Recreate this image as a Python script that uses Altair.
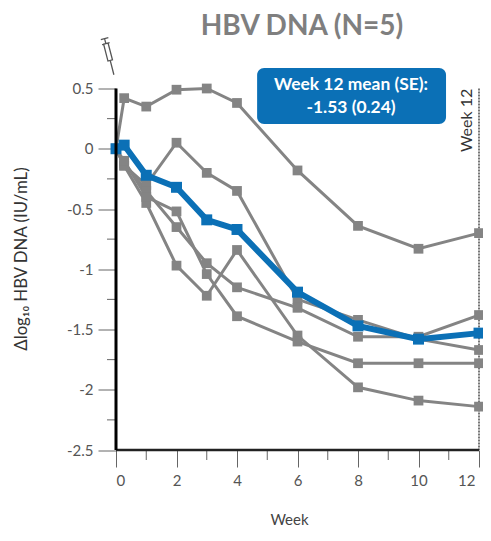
import altair as alt
import pandas as pd

weeks = [0, 0.27, 1, 2, 3, 4, 6, 8, 10, 12]
s1 = [0, 0.42, 0.35, 0.49, 0.50, 0.38, -0.18, -0.64, -0.83, -0.70]
s2 = [0, -0.14, -0.30, 0.05, -0.20, -0.35, -1.25, -1.42, -1.58, -1.67]
s3 = [0, -0.14, -0.45, -0.97, -1.22, -0.84, -1.55, -1.98, -2.09, -2.14]
s4 = [0, -0.12, -0.35, -0.65, -0.95, -1.15, -1.32, -1.56, -1.56, -1.38]
s5 = [0, -0.10, -0.40, -0.52, -1.04, -1.39, -1.60, -1.78, -1.78, -1.78]
mean = [0, 0.03, -0.22, -0.32, -0.59, -0.67, -1.19, -1.47, -1.58, -1.53]
x_major = [0, 2, 4, 6, 8, 10, 12]
x_minor = [1, 3, 5, 7, 9, 11]
y_major = [0.5, 0, -0.5, -1, -1.5, -2, -2.5]
y_minor = [0.25, -0.25, -0.75, -1.25, -1.75, -2.25]

GREY = "#848484"
BLUE = "#0b70b6"
FONT = "Lato"
W, H = 363, 361.5

rows = []
for name, vals in [("s1", s1), ("s2", s2), ("s3", s3), ("s4", s4), ("s5", s5)]:
    rows += [{"week": w, "value": v, "series": name} for w, v in zip(weeks, vals)]
grey_df = pd.DataFrame(rows)
mean_df = pd.DataFrame({"week": weeks, "value": mean})

xs = alt.Scale(domain=[0, 12], nice=False, zero=False)
ys = alt.Scale(domain=[-2.5, 0.5], nice=False, zero=False)

X = alt.X("week:Q", scale=xs, axis=alt.Axis(
    values=x_major, grid=False, domain=False, tickSize=17, tickColor="#666666", tickWidth=1,
    labelFont=FONT, labelFontSize=15, labelColor="#555555", labelPadding=6,
    labelOffset={"condition": {"test": "datum.value == 12", "value": -4}, "value": 0},
    title="Week", titleFont=FONT, titleFontSize=15, titleColor="#444444",
    titleFontWeight="normal", titleX=173, titleY=62, labelExpr="datum.value"))
Y = alt.Y("value:Q", scale=ys, axis=alt.Axis(
    values=y_major, grid=False, domain=False, tickSize=18, tickColor="#666666", tickWidth=1,
    labelFont=FONT, labelFontSize=15, labelColor="#555555", labelPadding=5,
    title="Δlog₁₀ HBV DNA (IU/mL)", titleFont=FONT, titleFontSize=16.8, titleColor="#333333",
    titleFontWeight="normal", titleX=-86, titleY=170, labelExpr="datum.value"))

XP = alt.X("week:Q", scale=xs)
YP = alt.Y("value:Q", scale=ys)

grey_lines = alt.Chart(grey_df).mark_line(color=GREY, strokeWidth=3).encode(x=X, y=Y, detail="series:N")
grey_pts = alt.Chart(grey_df).mark_point(shape="square", filled=True, color=GREY, size=95, opacity=1).encode(x=XP, y=YP)

week12 = alt.Chart(pd.DataFrame({"week": [12], "a": [0.5], "b": [-2.5]})).mark_rule(
    color="#777777", strokeWidth=2, strokeDash=[2, 1]).encode(x=XP, y=alt.Y("a:Q", scale=ys), y2="b:Q")

blue_line = alt.Chart(mean_df).mark_line(color=BLUE, strokeWidth=6).encode(x=XP, y=YP)
blue_pts = alt.Chart(mean_df).mark_point(shape="square", filled=True, color=BLUE, size=120, opacity=1).encode(x=XP, y=YP)

xmin = alt.Chart(pd.DataFrame({"week": x_minor})).mark_rule(color="#666666", strokeWidth=1).encode(
    x=XP, y=alt.value(H), y2=alt.value(H + 10))
ymin = alt.Chart(pd.DataFrame({"value": y_minor})).mark_rule(color="#666666", strokeWidth=1).encode(
    y=YP, x=alt.value(-9), x2=alt.value(0))
x_line = alt.Chart(pd.DataFrame({"a": [0], "b": [12], "v": [-2.5]})).mark_rule(color="#222222", strokeWidth=2.5).encode(
    x=alt.X("a:Q", scale=xs), x2="b:Q", y=alt.Y("v:Q", scale=ys))
y_line = alt.Chart(pd.DataFrame({"w": [0], "a": [0.5], "b": [-2.5]})).mark_rule(color="#000000", strokeWidth=3).encode(
    x=alt.X("w:Q", scale=xs), y=alt.Y("a:Q", scale=ys), y2="b:Q")

box = alt.Chart(pd.DataFrame({"x1": [4.665], "x2": [10.91], "y1": [0.67], "y2": [0.205]})).mark_rect(
    color=BLUE, cornerRadius=7).encode(
    x=alt.X("x1:Q", scale=xs), x2="x2:Q", y=alt.Y("y1:Q", scale=ys), y2="y2:Q")
box_text = alt.Chart(pd.DataFrame({"week": [7.77, 7.77], "value": [0.525, 0.335],
                                   "t": ["Week 12 mean (SE):", "-1.53 (0.24)"]})).mark_text(
    color="white", font=FONT, fontSize=17.4, fontWeight="bold", align="center", baseline="middle").encode(
    x=XP, y=YP, text="t:N")
wk_text = alt.Chart(pd.DataFrame({"week": [11.6], "value": [0.235], "t": ["Week 12"]})).mark_text(
    color="#333333", font=FONT, fontSize=16, angle=270, align="center", baseline="middle").encode(
    x=XP, y=YP, text="t:N")

SYRINGE = ("M-.212,-.421L-.018,-.471M-.115,-.446L-.0825,-.32M-.18,-.295L.015,-.345"
           "M-.14,-.305L-.025,-.335L.088,.101L-.028,.131ZM.03,.116L.125,.485")
syringe = alt.Chart(pd.DataFrame({"week": [-0.23], "value": [0.77]})).mark_point(
    shape=SYRINGE, filled=False, color="#555555", strokeWidth=1.3, size=6000, opacity=1).encode(x=XP, y=YP)

chart = alt.layer(
    grey_lines, xmin, ymin, week12, grey_pts, blue_line, blue_pts, x_line, y_line,
    box, box_text, wk_text, syringe
).properties(
    width=W, height=H,
    autosize=alt.AutoSizeParams(type="none"),
    padding={"left": 108, "top": 80.5, "right": 4, "bottom": 76},
    title=alt.TitleParams("HBV DNA (N=5)", font=FONT, fontSize=28, fontWeight="bold", color="#7f7f7f",
                          anchor="middle", dx=4.5, offset=-6),
).configure_view(stroke=None)

chart.save("out.html", embed_options={"renderer": "svg", "actions": False})
